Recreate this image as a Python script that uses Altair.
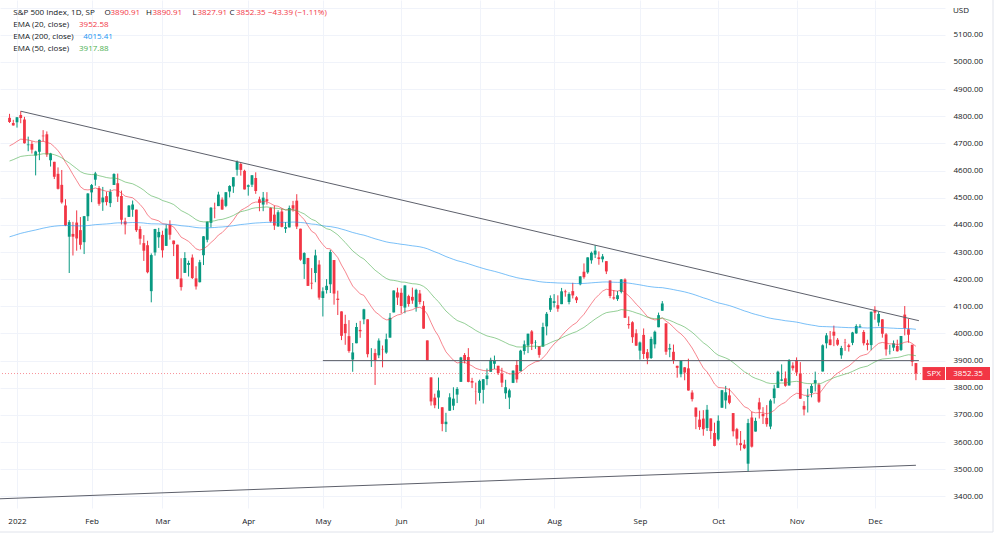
import altair as alt
import pandas as pd

# ---------------- data ----------------
trading_days = {
    "2021-12": [30, 31],
    "2022-01": [3, 4, 5, 6, 7, 10, 11, 12, 13, 14, 18, 19, 20, 21, 24, 25, 26, 27, 28, 31],
    "2022-02": [1, 2, 3, 4, 7, 8, 9, 10, 11, 14, 15, 16, 17, 18, 22, 23, 24, 25, 28],
    "2022-03": [1, 2, 3, 4, 7, 8, 9, 10, 11, 14, 15, 16, 17, 18, 21, 22, 23, 24, 25, 28, 29, 30, 31],
    "2022-04": [1, 4, 5, 6, 7, 8, 11, 12, 13, 14, 18, 19, 20, 21, 22, 25, 26, 27, 28, 29],
    "2022-05": [2, 3, 4, 5, 6, 9, 10, 11, 12, 13, 16, 17, 18, 19, 20, 23, 24, 25, 26, 27, 31],
    "2022-06": [1, 2, 3, 6, 7, 8, 9, 10, 13, 14, 15, 16, 17, 21, 22, 23, 24, 27, 28, 29, 30],
    "2022-07": [1, 5, 6, 7, 8, 11, 12, 13, 14, 15, 18, 19, 20, 21, 22, 25, 26, 27, 28, 29],
    "2022-08": [1, 2, 3, 4, 5, 8, 9, 10, 11, 12, 15, 16, 17, 18, 19, 22, 23, 24, 25, 26, 29, 30, 31],
    "2022-09": [1, 2, 6, 7, 8, 9, 12, 13, 14, 15, 16, 19, 20, 21, 22, 23, 26, 27, 28, 29, 30],
    "2022-10": [3, 4, 5, 6, 7, 10, 11, 12, 13, 14, 17, 18, 19, 20, 21, 24, 25, 26, 27, 28, 31],
    "2022-11": [1, 2, 3, 4, 7, 8, 9, 10, 11, 14, 15, 16, 17, 18, 21, 22, 23, 25, 28, 29, 30],
    "2022-12": [1, 2, 5, 6, 7, 8, 9, 12, 13, 14, 15, 16],
}
month_labels = ["2022", "Feb", "Mar", "Apr", "May", "Jun", "Jul", "Aug", "Sep", "Oct", "Nov", "Dec"]

open_ = [
    4794.23, 4775.21,
    4778.14, 4804.51, 4787.99, 4693.39, 4697.66, 4655.34, 4669.14, 4728.59, 4733.56, 4637.99, 4632.24, 4588.03, 4547.35, 4471.38, 4356.32, 4366.64, 4408.43, 4380.58, 4336.19, 4431.79,
    4519.57, 4566.39, 4535.41, 4482.79, 4505.75, 4480.02, 4547.00, 4553.24, 4506.27, 4412.61, 4429.28, 4455.75, 4456.06, 4384.57, 4332.74, 4324.93, 4155.77, 4298.38, 4354.17,
    4363.14, 4322.56, 4401.31, 4342.12, 4327.01, 4202.66, 4223.10, 4252.55, 4279.50, 4202.75, 4188.82, 4288.14, 4345.11, 4407.34, 4462.40, 4469.10, 4493.10, 4469.98, 4522.91, 4541.09, 4602.86, 4624.20, 4599.02,
    4540.32, 4547.97, 4572.45, 4494.17, 4474.65, 4494.15, 4462.64, 4437.59, 4394.30, 4449.12, 4385.63, 4390.63, 4472.26, 4489.17, 4385.83, 4255.34, 4278.14, 4186.52, 4222.58, 4253.75,
    4130.61, 4159.78, 4181.18, 4270.43, 4128.17, 4081.27, 4035.18, 3990.08, 3903.95, 3963.90, 4013.02, 4052.00, 4051.98, 3899.00, 3927.76, 3919.42, 3942.94, 3929.59, 3984.60, 4077.43, 4151.09,
    4149.78, 4095.41, 4137.57, 4134.72, 4096.47, 4147.12, 4101.65, 3974.39, 3838.15, 3763.52, 3764.05, 3728.18, 3665.90, 3715.31, 3733.89, 3774.71, 3821.75, 3920.76, 3913.00, 3825.09, 3785.99,
    3781.00, 3792.61, 3831.98, 3858.85, 3888.26, 3880.94, 3851.95, 3779.67, 3763.99, 3818.00, 3883.79, 3860.73, 3935.32, 3955.47, 4007.51, 3965.72, 3953.22, 3951.43, 4026.13, 4087.33,
    4112.38, 4104.21, 4107.96, 4154.85, 4115.87, 4155.93, 4133.11, 4181.02, 4227.40, 4225.02, 4269.37, 4290.46, 4280.40, 4273.13, 4266.31, 4195.08, 4133.09, 4126.55, 4153.26, 4198.74, 4034.58, 4041.25, 4000.67,
    3936.73, 3994.66, 3930.89, 3909.43, 3959.94, 4022.94, 4083.67, 4037.12, 3940.73, 3932.41, 3880.95, 3849.91, 3875.23, 3871.40, 3782.36, 3727.14, 3682.72, 3686.44, 3651.94, 3687.01, 3633.48,
    3609.78, 3726.46, 3753.25, 3771.97, 3706.74, 3647.51, 3595.86, 3590.83, 3520.37, 3690.41, 3638.65, 3746.26, 3703.11, 3689.05, 3657.10, 3762.01, 3799.44, 3825.97, 3834.69, 3808.26, 3881.85,
    3901.79, 3852.90, 3733.25, 3766.98, 3780.71, 3817.02, 3810.94, 3859.89, 3963.72, 3977.97, 4006.41, 3976.82, 3919.26, 3966.39, 3956.23, 3965.51, 4000.30, 4023.34, 4005.36, 3964.19, 3957.18,
    4087.14, 4040.17, 4052.02, 3996.63, 3933.28, 3947.79, 3954.17, 3939.29, 4069.38, 4015.54, 3958.37, 3890.91,
]
high = [
    4808.93, 4786.83,
    4796.64, 4818.62, 4797.70, 4725.01, 4707.95, 4673.02, 4714.13, 4748.83, 4744.13, 4665.13, 4632.24, 4611.55, 4602.11, 4494.52, 4417.35, 4411.01, 4453.23, 4428.74, 4432.72, 4516.89,
    4550.49, 4595.31, 4542.88, 4539.66, 4521.86, 4531.32, 4590.03, 4588.92, 4526.33, 4426.22, 4472.77, 4489.55, 4456.06, 4394.60, 4362.12, 4341.51, 4294.73, 4385.34, 4388.84,
    4378.45, 4401.48, 4416.78, 4342.12, 4327.01, 4276.94, 4299.40, 4268.28, 4291.01, 4247.57, 4271.05, 4358.90, 4412.67, 4465.40, 4481.75, 4522.00, 4501.07, 4520.58, 4546.03, 4575.65, 4637.30, 4627.77, 4603.07,
    4548.70, 4583.50, 4593.45, 4503.94, 4521.16, 4520.41, 4464.35, 4471.00, 4453.92, 4460.46, 4410.31, 4471.03, 4488.29, 4512.94, 4385.83, 4299.02, 4278.14, 4240.71, 4308.45, 4269.68,
    4169.81, 4200.10, 4307.66, 4270.43, 4157.69, 4081.27, 4068.82, 4049.09, 3964.80, 4038.88, 4046.46, 4090.72, 4051.98, 3945.96, 3943.42, 3981.88, 3955.68, 3999.33, 4075.14, 4158.49, 4168.34,
    4166.54, 4177.51, 4142.67, 4168.78, 4164.86, 4160.14, 4119.10, 3974.39, 3838.15, 3778.18, 3837.56, 3728.18, 3707.71, 3779.65, 3801.79, 3802.58, 3913.65, 3927.72, 3945.86, 3836.50, 3818.99,
    3829.82, 3832.19, 3870.91, 3910.63, 3918.50, 3880.94, 3873.41, 3829.44, 3796.41, 3863.62, 3902.44, 3939.81, 3974.13, 3999.29, 4012.44, 3975.30, 3953.22, 4039.56, 4078.95, 4140.15,
    4144.95, 4140.47, 4167.66, 4161.29, 4151.58, 4186.62, 4137.30, 4211.03, 4257.91, 4280.47, 4301.79, 4325.28, 4302.18, 4292.53, 4266.31, 4195.08, 4159.77, 4156.56, 4200.54, 4203.04, 4062.99, 4044.98, 4015.37,
    3970.23, 4018.43, 3942.55, 3987.89, 4010.50, 4076.81, 4119.28, 4037.12, 3961.94, 3959.14, 3880.95, 3900.45, 3876.01, 3907.07, 3790.78, 3727.14, 3715.67, 3717.53, 3736.74, 3687.01, 3671.44,
    3698.35, 3791.92, 3806.91, 3797.93, 3706.74, 3652.17, 3640.66, 3608.34, 3685.41, 3712.00, 3689.73, 3762.79, 3728.58, 3736.00, 3757.89, 3810.74, 3862.79, 3886.15, 3859.95, 3905.42, 3893.73,
    3911.79, 3894.44, 3750.59, 3796.34, 3813.95, 3859.40, 3818.20, 3959.72, 4001.48, 4008.97, 4028.84, 3983.09, 3954.33, 3979.89, 3962.00, 4005.88, 4033.78, 4034.02, 4012.27, 3976.77, 4080.11,
    4100.51, 4080.48, 4052.45, 4001.51, 3957.57, 3974.19, 3977.02, 3990.71, 4100.96, 4053.76, 3958.37, 3890.91,
]
low = [
    4775.33, 4765.75,
    4758.17, 4774.27, 4699.44, 4671.26, 4662.74, 4582.24, 4638.27, 4706.71, 4650.29, 4614.75, 4568.70, 4530.20, 4477.95, 4395.34, 4222.62, 4287.11, 4304.80, 4309.50, 4292.46, 4414.02,
    4483.53, 4544.32, 4470.39, 4451.50, 4471.47, 4465.40, 4547.00, 4484.31, 4401.41, 4364.84, 4429.28, 4429.68, 4373.81, 4327.22, 4267.11, 4221.51, 4114.65, 4286.83, 4315.12,
    4279.54, 4322.56, 4345.56, 4284.98, 4199.85, 4157.87, 4223.10, 4209.80, 4200.49, 4161.72, 4187.90, 4251.99, 4335.65, 4390.57, 4424.30, 4469.10, 4455.81, 4465.17, 4501.07, 4517.69, 4581.32, 4581.32, 4530.41,
    4507.57, 4539.21, 4514.17, 4450.04, 4450.30, 4474.60, 4408.38, 4381.34, 4392.70, 4390.77, 4370.30, 4390.63, 4448.76, 4384.47, 4267.62, 4200.82, 4175.04, 4162.90, 4188.63, 4124.28,
    4062.51, 4147.08, 4148.91, 4106.01, 4067.91, 3975.48, 3958.17, 3928.82, 3858.87, 3963.90, 3983.99, 4033.93, 3911.91, 3876.58, 3810.32, 3909.04, 3875.13, 3925.03, 3984.60, 4077.43, 4104.88,
    4073.85, 4074.37, 4098.67, 4109.18, 4080.19, 4107.20, 4017.17, 3900.16, 3734.30, 3724.64, 3722.30, 3639.77, 3636.87, 3715.31, 3717.69, 3743.52, 3821.75, 3889.66, 3820.14, 3799.02, 3738.67,
    3752.10, 3742.06, 3809.37, 3858.85, 3869.34, 3847.22, 3802.36, 3759.07, 3721.56, 3817.18, 3818.63, 3860.73, 3922.03, 3927.64, 3938.85, 3943.46, 3910.74, 3951.43, 3992.97, 4079.22,
    4096.02, 4079.81, 4107.96, 4135.42, 4107.31, 4128.97, 4112.09, 4177.26, 4201.41, 4219.78, 4256.90, 4277.77, 4253.08, 4261.98, 4218.70, 4129.86, 4124.03, 4119.97, 4147.59, 4057.66, 4017.42, 3965.21, 3954.53,
    3903.65, 3906.21, 3886.75, 3906.03, 3944.81, 4022.94, 4083.67, 3921.36, 3912.40, 3888.28, 3837.08, 3838.50, 3827.54, 3789.49, 3749.45, 3647.47, 3644.76, 3623.29, 3640.61, 3610.40, 3584.13,
    3604.93, 3726.46, 3722.66, 3739.22, 3620.73, 3588.10, 3568.45, 3573.86, 3491.58, 3579.68, 3638.65, 3686.53, 3666.51, 3656.44, 3647.42, 3741.65, 3799.44, 3824.07, 3803.79, 3808.26, 3863.18,
    3843.80, 3758.68, 3698.15, 3708.84, 3764.70, 3786.28, 3744.22, 3859.89, 3944.82, 3956.40, 3953.17, 3954.34, 3906.54, 3935.98, 3933.34, 3956.88, 3998.66, 4020.76, 3955.77, 3937.65, 3938.58,
    4050.87, 4026.63, 3984.49, 3918.39, 3922.68, 3935.83, 3933.04, 3935.30, 3993.03, 3965.65, 3879.45, 3827.91,
]
close = [
    4778.73, 4766.18,
    4796.56, 4793.54, 4700.58, 4696.05, 4677.03, 4670.29, 4713.07, 4726.35, 4659.03, 4662.85, 4577.11, 4532.76, 4482.73, 4397.94, 4410.13, 4356.45, 4349.93, 4326.51, 4431.85, 4515.55,
    4546.54, 4589.38, 4477.44, 4500.53, 4483.87, 4521.54, 4587.18, 4504.08, 4418.64, 4401.67, 4471.07, 4475.01, 4380.26, 4348.87, 4304.76, 4225.50, 4288.70, 4384.65, 4373.94,
    4306.26, 4386.54, 4363.49, 4328.87, 4201.09, 4170.70, 4277.88, 4259.52, 4204.31, 4173.11, 4262.45, 4357.86, 4411.67, 4463.12, 4461.18, 4511.61, 4456.24, 4520.16, 4543.06, 4575.52, 4631.60, 4602.45, 4530.41,
    4545.86, 4582.64, 4525.12, 4481.15, 4500.21, 4488.28, 4412.53, 4397.45, 4446.59, 4392.59, 4391.69, 4462.21, 4459.45, 4393.66, 4271.78, 4296.12, 4175.20, 4183.96, 4287.50, 4131.93,
    4155.38, 4175.48, 4300.17, 4146.87, 4123.34, 3991.24, 4001.05, 3935.18, 3930.08, 4023.89, 4008.01, 4088.85, 3923.68, 3900.79, 3901.36, 3973.75, 3941.48, 3978.73, 4057.84, 4158.24, 4132.15,
    4101.23, 4176.82, 4108.54, 4121.43, 4160.68, 4115.77, 4017.82, 3900.86, 3749.63, 3735.48, 3789.99, 3666.77, 3674.84, 3764.79, 3759.89, 3795.73, 3911.74, 3900.11, 3821.55, 3818.83, 3785.38,
    3825.33, 3831.39, 3845.08, 3902.62, 3899.38, 3854.43, 3818.80, 3801.78, 3790.38, 3863.16, 3830.85, 3936.69, 3959.90, 3998.95, 3961.63, 3966.84, 3921.05, 4023.61, 4072.43, 4130.29,
    4118.63, 4091.19, 4155.17, 4151.94, 4145.19, 4140.06, 4122.47, 4210.24, 4207.27, 4280.15, 4297.14, 4305.20, 4274.04, 4283.74, 4228.48, 4137.99, 4128.73, 4140.77, 4199.12, 4057.66, 4030.61, 3986.16, 3955.00,
    3966.85, 3924.26, 3908.19, 3979.87, 4006.18, 4067.36, 4110.41, 3932.69, 3946.01, 3901.35, 3873.33, 3899.89, 3855.93, 3789.93, 3757.99, 3693.23, 3655.04, 3647.29, 3719.04, 3640.47, 3585.62,
    3678.43, 3790.93, 3783.28, 3744.52, 3639.66, 3612.39, 3588.84, 3577.03, 3669.91, 3583.07, 3677.95, 3719.98, 3695.16, 3665.78, 3752.75, 3797.34, 3859.11, 3830.60, 3807.30, 3901.06, 3871.98,
    3856.10, 3759.69, 3719.89, 3770.55, 3806.80, 3828.11, 3748.57, 3956.37, 3992.93, 3957.25, 3991.73, 3958.79, 3946.56, 3965.34, 3949.94, 4003.58, 4027.26, 4026.12, 3963.94, 3957.63, 4080.11,
    4076.57, 4071.70, 3998.84, 3941.26, 3933.92, 3963.51, 3934.38, 3990.56, 4019.65, 3995.32, 3895.75, 3852.35,
]

# EMA values read at the first visible bar (seed), then EMA periods
ema_names = ["EMA (20, close)", "EMA (200, close)", "EMA (50, close)"]
ema_periods = [20, 200, 50]
ema_seed = [4691.0, 4356.0, 4635.0]
ema_legend_values = ["3952.58", "4015.41", "3917.88"]

# drawn lines (bar index, price)
upper_trend_i = [1, 241.8]
upper_trend_v = [4818.62, 4047.0]
lower_trend_i = [-4.6, 241.0]
lower_trend_v = [3391.0, 3514.5]
level_i = [82, 241.8]
level_v = 3900.0

# ---------------- build tables ----------------
dates = [f"{ym}-{d:02d}" for ym, days in trading_days.items() for d in days]
n = len(dates)
assert n == len(open_) == len(high) == len(low) == len(close), (n, len(open_), len(high), len(low), len(close))
first = dates.index("2022-01-03")
idx = [k - first for k in range(n)]

df = pd.DataFrame({"i": idx, "date": dates, "open": open_, "high": high, "low": low, "close": close})
df["up"] = df["close"] >= df["open"]

tick_idx = []
for k in range(first, n):
    if k == first or dates[k][:7] != dates[k - 1][:7]:
        tick_idx.append(idx[k])
label_expr = ""
for t, lab in zip(tick_idx, month_labels):
    label_expr += f"datum.value == {t} ? '{lab}' : "
label_expr += "''"

ema_tables = []
for name, p, seed in zip(ema_names, ema_periods, ema_seed):
    a = 2.0 / (p + 1)
    e = seed
    vals = []
    for k, c in enumerate(close):
        if k > 0:
            e = a * c + (1 - a) * e
        vals.append(e)
    ema_tables.append(pd.DataFrame({"i": idx, "v": vals}))

# ---------------- style ----------------
FONT = "Open Sans"
DARK = "#131722"
UP = "#089981"
DOWN = "#f23645"
GRID = "#f0f3fa"
EMA_COLORS = ["#f23645", "#2196f3", "#4caf50"]
LINE = "#5d606b"

XS = alt.Scale(domain=[-17 / 3.73, 928 / 3.73], nice=False, zero=False, padding=0)
YS = alt.Scale(domain=[3357.1, 5228.2], nice=False, zero=False)
XA = alt.Axis(values=tick_idx, labelExpr=label_expr, grid=True, gridColor=GRID, ticks=False,
              domain=False, labelFont=FONT, labelFontSize=8, labelColor=DARK, labelPadding=9,
              labelAngle=0, labelFlush=False, labelOverlap=False)
YA = alt.Axis(orient="right", values=list(range(3400, 5300, 100)),
              labelExpr="datum.value > 5150 ? '' : format(datum.value, '.2f')",
              grid=True, gridColor=GRID, ticks=False, domain=False, labelFont=FONT,
              labelFontSize=8, labelColor=DARK, labelPadding=8, labelAlign="left",
              labelBaseline="middle", labelFlush=False, labelOverlap=False)


def X(f):
    return alt.X(f"{f}:Q", scale=XS, axis=XA, title=None)


def Y(f):
    return alt.Y(f"{f}:Q", scale=YS, axis=YA, title=None)


layers = []

# last price dotted line
last_df = pd.DataFrame({"p": [close[-1]]})
layers.append(alt.Chart(last_df).mark_rule(color=DOWN, strokeOpacity=0.55, strokeDash=[1, 2], strokeWidth=1)
              .encode(y=Y("p")))

# candles
for is_up, col in [(True, UP), (False, DOWN)]:
    sub = df[df["up"] == is_up]
    layers.append(alt.Chart(sub).mark_rule(color=col, strokeWidth=1)
                  .encode(x=X("i"), y=Y("low"), y2="high"))
    layers.append(alt.Chart(sub).mark_bar(color=col, size=2.8, strokeWidth=0)
                  .encode(x=X("i"), y=Y("open"), y2="close"))

# EMAs
for tbl, col in zip(ema_tables, EMA_COLORS):
    layers.append(alt.Chart(tbl).mark_line(color=col, strokeWidth=1, strokeOpacity=0.6)
                  .encode(x=X("i"), y=Y("v")))

# trend lines
trend_df = pd.DataFrame({
    "line": ["upper", "upper", "lower", "lower"],
    "i": upper_trend_i + lower_trend_i,
    "v": upper_trend_v + lower_trend_v,
})
layers.append(alt.Chart(trend_df).mark_line(color=LINE, strokeWidth=1, clip=True)
              .encode(x=X("i"), y=Y("v"), detail="line:N"))

# horizontal level
lvl_df = pd.DataFrame({"i0": [level_i[0]], "i1": [level_i[1]], "v": [level_v]})
layers.append(alt.Chart(lvl_df).mark_rule(color=LINE, strokeWidth=1)
              .encode(x=X("i0"), x2="i1", y=Y("v")))

# price label on the scale
layers.append(alt.Chart(last_df).mark_rect(color=DOWN, yOffset=-6.5, y2Offset=6.5)
              .encode(x=alt.value(922.5), x2=alt.value(945), y=Y("p"), y2="p"))
layers.append(alt.Chart(last_df).mark_rect(color=DOWN, yOffset=-6.5, y2Offset=6.5)
              .encode(x=alt.value(946), x2=alt.value(990), y=Y("p"), y2="p"))
layers.append(alt.Chart(last_df).mark_text(font=FONT, fontSize=8, color="white", align="center", baseline="middle")
              .encode(x=alt.value(934), y=Y("p"), text=alt.value("SPX")))
layers.append(alt.Chart(last_df).mark_text(font=FONT, fontSize=8, color="white", align="center", baseline="middle")
              .encode(x=alt.value(968), y=Y("p"), text=alt.Text("p:Q", format=".2f")))


def txt(s, px, py, color):
    return (alt.Chart(pd.DataFrame({"t": [s]}))
            .mark_text(font=FONT, fontSize=8, color=color, align="left", baseline="middle")
            .encode(x=alt.value(px), y=alt.value(py), text="t:N"))


# header legend
header = [
    ("S&P 500 Index, 1D, SP", 13.3, DARK),
    ("O", 104.5, DARK), (f"{open_[-1]:.2f}", 110.5, DOWN),
    ("H", 146, DARK), (f"{high[-1]:.2f}", 152.5, DOWN),
    ("L", 192.5, DARK), (f"{low[-1]:.2f}", 197.5, DOWN),
    ("C", 229.5, DARK), (f"{close[-1]:.2f}", 236, DOWN),
    ("\u221243.39 (\u22121.11%)", 268, DOWN),
]
for s, px, col in header:
    layers.append(txt(s, px, 13, col))

ema_rows_y = [25, 37, 49]
ema_val_x = [79, 83.3, 79]
for name, val, col, py, vx in zip(ema_names, ema_legend_values, EMA_COLORS, ema_rows_y, ema_val_x):
    layers.append(txt(name, 13.3, py, DARK))
    layers.append(txt(val, vx, py, col))

layers.append(txt("USD", 953, 11, DARK))

# outer frame
one = pd.DataFrame({"a": [0]})
layers.append(alt.Chart(one).mark_rule(color="#e0e3eb", strokeWidth=1)
              .encode(x=alt.value(993), y=alt.value(0), y2=alt.value(532)))
layers.append(alt.Chart(one).mark_rule(color="#e0e3eb", strokeWidth=1)
              .encode(x=alt.value(0), x2=alt.value(993), y=alt.value(532)))

chart = (alt.layer(*layers)
         .properties(width=945, height=508,
                     autosize=alt.AutoSizeParams(type="none"),
                     padding={"left": 0, "top": 0, "right": 55, "bottom": 27},
                     background="white")
         .configure_view(stroke=None))

chart.save("out.html", embed_options={"renderer": "svg", "actions": False})
